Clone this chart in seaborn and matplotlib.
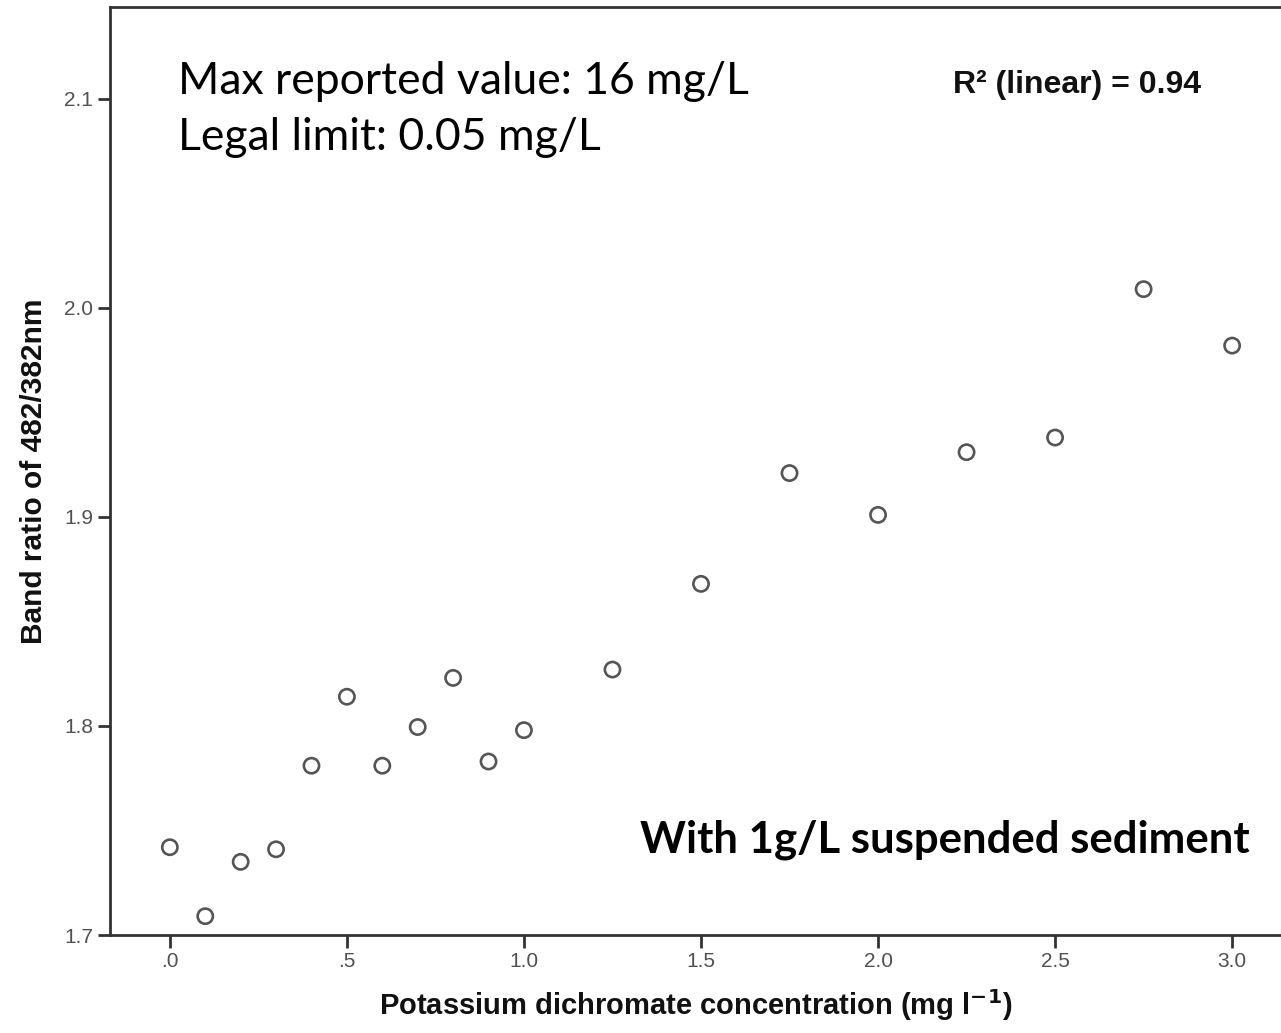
import seaborn as sns
import matplotlib.pyplot as plt
import pandas as pd

# concentrazioni e rapporti di banda
concentrazione = [0.0, 0.1, 0.2, 0.3, 0.4, 0.5, 0.6, 0.7, 0.8, 0.9, 1.0,
                  1.25, 1.5, 1.75, 2.0, 2.25, 2.5, 2.75, 3.0]
rapporto = [1.742, 1.709, 1.735, 1.741, 1.781, 1.814, 1.781, 1.7995, 1.823,
            1.783, 1.798, 1.827, 1.868, 1.921, 1.901, 1.931, 1.938, 2.009, 1.982]
xtick_vals = [0.0, 0.5, 1.0, 1.5, 2.0, 2.5, 3.0]
xtick_labels = ['.0', '.5', '1.0', '1.5', '2.0', '2.5', '3.0']
ytick_vals = [1.7, 1.8, 1.9, 2.0, 2.1]
ytick_labels = ['1.7', '1.8', '1.9', '2.0', '2.1']

df = pd.DataFrame({'conc': concentrazione, 'ratio': rapporto})

sns.set_style('white')
plt.rcParams['font.family'] = ['Liberation Sans', 'DejaVu Sans']

fig = plt.figure(figsize=(12.81, 10.33), dpi=100)
ax = fig.add_axes([110/1281, 1 - 935/1033, 1 - 110/1281, (935 - 7)/1033])

sns.scatterplot(data=df, x='conc', y='ratio', ax=ax, marker='o', s=120,
                facecolor='none', edgecolor='#555555', linewidth=1.9)

ax.set_xlim(-0.169, 3.138)
ax.set_ylim(1.7, 2.144)
ax.set_xticks(xtick_vals)
ax.set_xticklabels(xtick_labels)
ax.set_yticks(ytick_vals)
ax.set_yticklabels(ytick_labels)
ax.tick_params(axis='both', direction='out', length=9, width=2, color='#333333',
               labelsize=15, labelcolor='#505050', left=True, bottom=True, pad=3)

for s in ['left', 'bottom', 'top']:
    ax.spines[s].set_color('#333333')
    ax.spines[s].set_linewidth(2)
ax.spines['right'].set_visible(False)

ax.set_xlabel('Potassium dichromate concentration (mg l$^{\\mathbf{-1}}$)',
              fontsize=21, fontweight='bold', labelpad=12, color='#111111')
ax.set_ylabel('Band ratio of 482/382nm', fontsize=21.5, fontweight='bold',
              labelpad=12, color='#111111')

fig.text(178/1281, 1 - 82/1033, 'Max reported value: 16 mg/L', fontsize=32,
         family=['Lato', 'DejaVu Sans'], va='center', ha='left', color='black')
fig.text(178/1281, 1 - 137/1033, 'Legal limit: 0.05 mg/L', fontsize=32,
         family=['Lato', 'DejaVu Sans'], va='center', ha='left', color='black')
fig.text(953/1281, 1 - 85/1033, 'R² (linear) = 0.94', fontsize=23,
         fontweight='bold', va='center', ha='left', color='#111111')
fig.text(1250/1281, 1 - 840/1033, 'With 1g/L suspended sediment', fontsize=31.5,
         fontweight='bold', family=['Lato', 'DejaVu Sans'], va='center', ha='right',
         color='black')

fig.savefig('out.png', dpi=100)
